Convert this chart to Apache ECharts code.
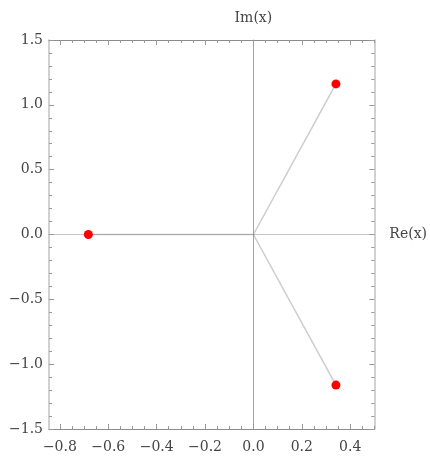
<!DOCTYPE html>
<html>
<head>
<meta charset="utf-8">
<script src="https://cdn.jsdelivr.net/npm/echarts@6/dist/echarts.min.js"></script>
<style>
  html, body { margin: 0; padding: 0; background: #fff; }
  #chart { width: 430px; height: 457px; }
</style>
</head>
<body>
<div id="chart"></div>
<script>
// roots of x^3 + x + 1
const reParts = [-0.6823, 0.3412, 0.3412]
const imParts = [0, 1.1615, -1.1615]

// tick labels
const xMajor = [-0.8, -0.6, -0.4, -0.2, 0, 0.2, 0.4]
const yMajor = [-1.5, -1.0, -0.5, 0, 0.5, 1.0, 1.5]
const xMinor = [-0.75, -0.7, -0.65, -0.55, -0.5, -0.45, -0.35, -0.3, -0.25, -0.15, -0.1, -0.05,
  0.05, 0.1, 0.15, 0.25, 0.3, 0.35, 0.45, 0.5]
const yMinor = [-1.4, -1.3, -1.2, -1.1, -0.9, -0.8, -0.7, -0.6, -0.4, -0.3, -0.2, -0.1,
  0.1, 0.2, 0.3, 0.4, 0.6, 0.7, 0.8, 0.9, 1.1, 1.2, 1.3, 1.4]

const xRange = [-0.845, 0.5]
const yRange = [-1.5, 1.5]

const FONT = 'DejaVu Serif'
const fmt = v => (v < 0 ? '\u2212' : '') + Math.abs(v).toFixed(1)

// one frame axis: line + ticks (major or minor), labels optional
function frameAxis(pos, range, ticks, len, opts) {
  opts = opts || {}
  return {
    type: 'value',
    position: pos,
    min: range[0],
    max: range[1],
    splitLine: { show: false },
    axisLine: { show: !!opts.line, onZero: false, lineStyle: opts.line || {} },
    axisTick: {
      show: true, inside: true, length: len, customValues: ticks,
      lineStyle: { color: '#999', width: 1 },
    },
    axisLabel: opts.labels ? {
      show: true, customValues: ticks, formatter: fmt,
      fontFamily: FONT, fontSize: 14, color: '#444', margin: opts.margin,
    } : { show: false },
  }
}

const xLine = { color: '#8c8c8c', width: 1 }
const yLine = { color: '#c2c2c2', width: 1.5 }

const xAxes = [
  frameAxis('bottom', xRange, xMajor, 5, { labels: true, line: xLine, margin: 11 }),
  frameAxis('bottom', xRange, xMinor, 3),
  frameAxis('top', xRange, xMajor, 5, { line: xLine }),
  frameAxis('top', xRange, xMinor, 3),
  {
    type: 'value', position: 'bottom', min: xRange[0], max: xRange[1],
    name: 'Re(x)', nameLocation: 'end', nameGap: 15,
    nameTextStyle: { fontFamily: FONT, fontSize: 14, color: '#444' },
    splitLine: { show: false }, axisTick: { show: false }, axisLabel: { show: false },
    axisLine: { show: true, onZero: true, onZeroAxisIndex: 0, lineStyle: { color: 'rgba(128,128,128,0.45)', width: 1 } },
  },
]

const yAxes = [
  frameAxis('left', yRange, yMajor, 5, { labels: true, line: yLine, margin: 6 }),
  frameAxis('left', yRange, yMinor, 3),
  frameAxis('right', yRange, yMajor, 5, { line: yLine }),
  frameAxis('right', yRange, yMinor, 3),
  {
    type: 'value', position: 'left', min: yRange[0], max: yRange[1],
    name: 'Im(x)', nameLocation: 'end', nameGap: 15,
    nameTextStyle: { fontFamily: FONT, fontSize: 14, color: '#444' },
    splitLine: { show: false }, axisTick: { show: false }, axisLabel: { show: false },
    axisLine: { show: true, onZero: true, onZeroAxisIndex: 0, lineStyle: { color: 'rgba(128,128,128,0.7)', width: 1 } },
  },
]

const points = reParts.map((re, i) => [re, imParts[i]])

// segments from the origin to each root
const spokes = points.map(p => ({
  type: 'line',
  data: [[0, 0], p],
  symbol: 'none',
  silent: true,
  z: 3,
  lineStyle: { color: 'rgba(128,128,128,0.4)', width: 1.5 },
}))

const chart = echarts.init(document.getElementById('chart'), null, { renderer: 'canvas' })
chart.setOption({
  animation: false,
  grid: { left: 49, right: 55, top: 40, bottom: 28 },
  xAxis: xAxes,
  yAxis: yAxes,
  series: spokes.concat([{
    type: 'scatter',
    data: points,
    symbolSize: 9,
    z: 5,
    itemStyle: { color: '#ff0000', opacity: 1 },
  }]),
})
</script>
</body>
</html>
